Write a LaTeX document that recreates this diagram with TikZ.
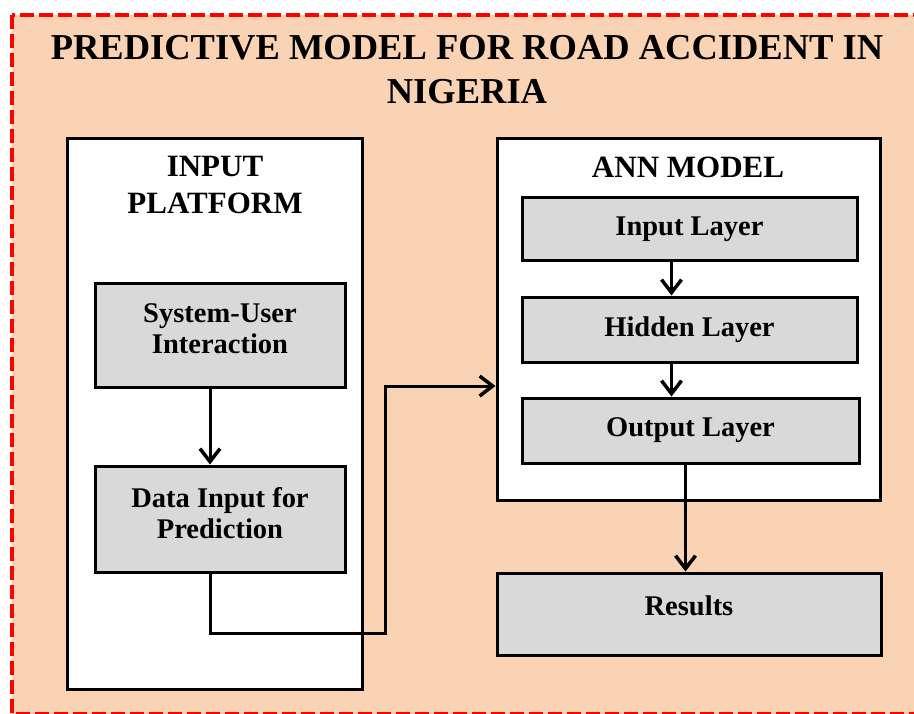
\documentclass[tikz,border=0pt]{standalone}
\usepackage{fontspec}
\setmainfont{Liberation Serif}
\usetikzlibrary{arrows.meta}
\definecolor{peach}{HTML}{FAD3B4}
\definecolor{boxgray}{HTML}{D9D9D9}
\tikzset{
  panel/.style={draw=black, line width=3pt, fill=white},
  stepbox/.style={draw=black, line width=3pt, fill=boxgray, inner sep=0pt,
    align=center, font=\fontsize{28.5}{31}\selectfont\bfseries},
  heading/.style={align=center, font=\fontsize{31}{37}\selectfont\bfseries},
  arr/.style={line width=3pt, -{Straight Barb[length=13pt,width=20pt,line width=3.5pt]}},
  link/.style={line width=3pt}
}
\begin{document}
\begin{tikzpicture}[x=1pt, y=-1pt]
\useasboundingbox (0,0) rectangle (914,713);
% outer frame
\fill[peach] (12,15) rectangle (920,714);
\draw[red, line width=4pt, dash pattern=on 14pt off 5pt] (12,15) rectangle (920,714);
% title
\node[align=center, font=\fontsize{36.5}{44}\selectfont\bfseries] (title) at (467,70)
  {PREDICTIVE MODEL FOR ROAD ACCIDENT IN\\NIGERIA};
% panels
\node[panel, minimum width=295pt, minimum height=551pt, inner sep=0pt] (inp) at (215,413.5) {};
\node[panel, minimum width=383pt, minimum height=362pt, inner sep=0pt] (ann) at (688.5,319) {};
\node[heading] (inphead) at (215,185) {INPUT\\PLATFORM};
\node[heading] (annhead) at (688,167) {ANN MODEL};
% input platform steps
\node[stepbox, minimum width=250pt, minimum height=104pt, text depth=13pt] (sui) at (220,335) {System-User\\Interaction};
\node[stepbox, minimum width=250pt, minimum height=106pt, text depth=13pt] (dip) at (220,519) {Data Input for\\Prediction};
% ANN layers
\node[stepbox, minimum width=335pt, minimum height=63pt] (inl) at (689.5,229) {Input Layer};
\node[stepbox, minimum width=335pt, minimum height=65pt] (hid) at (689.5,329.5) {Hidden Layer};
\node[stepbox, minimum width=337pt, minimum height=65pt] (outl) at (690.5,430.5) {Output Layer};
% results
\node[stepbox, minimum width=384pt, minimum height=82pt, text height=20pt, text depth=17pt] (res) at (689,614) {Results};
% connectors
\draw[arr] ([xshift=-10pt]sui.south) -- ([xshift=-10pt]sui.south |- dip.north);
\coordinate (bend) at (385,633);
\coordinate (annin) at (ann.west |- 0,386);
\draw[arr] ([xshift=-10pt]dip.south) |- (bend) |- (annin);
\draw[arr] ([xshift=-18pt]inl.south) -- ([xshift=-18pt]inl.south |- hid.north);
\draw[arr] ([xshift=-18pt]hid.south) -- ([xshift=-18pt]hid.south |- outl.north);
\draw[arr] ([xshift=-5pt]outl.south) -- ([xshift=-5pt]outl.south |- res.north);
\end{tikzpicture}
\end{document}
